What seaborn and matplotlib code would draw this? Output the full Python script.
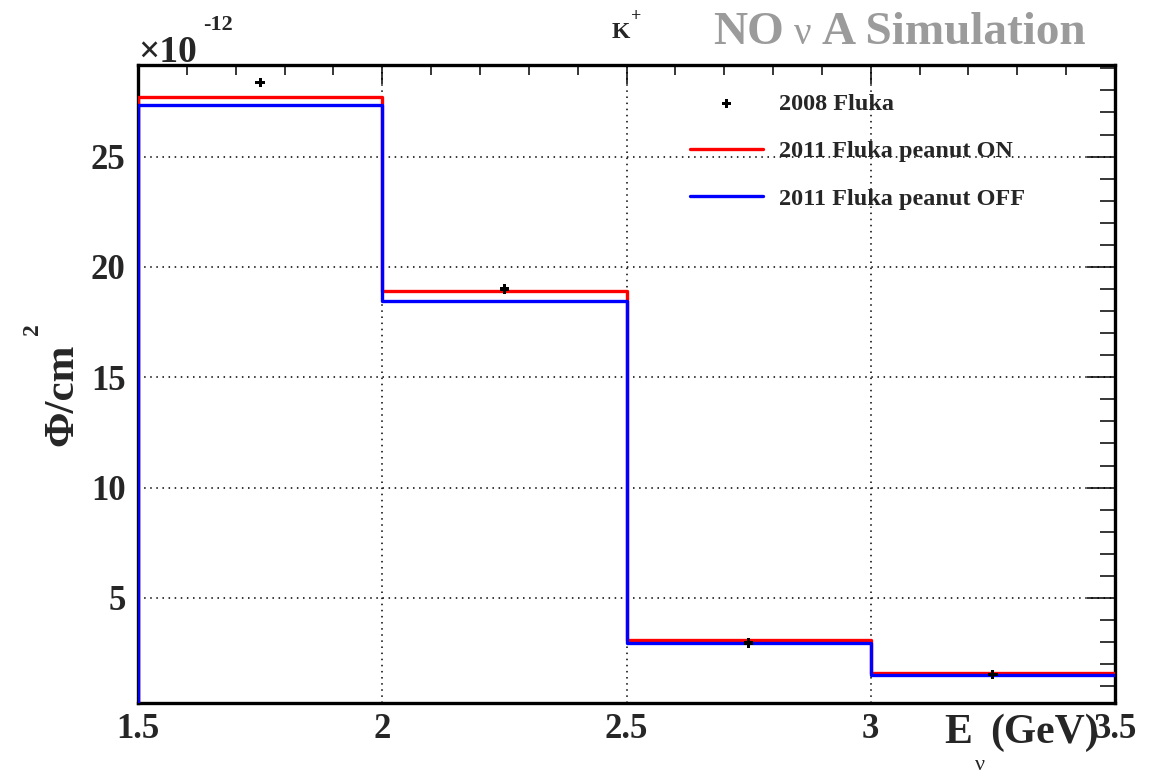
import numpy as np
import pandas as pd
import matplotlib
matplotlib.use("Agg")
import matplotlib.pyplot as plt
from matplotlib.ticker import MultipleLocator, FixedLocator
import seaborn as sns

# Energy bins (GeV) and flux per bin, in units of 1e-12 / cm^2
bin_edges = [1.5, 2.0, 2.5, 3.0, 3.5]
bin_centers = [1.75, 2.25, 2.75, 3.25]
flux_2008 = [28.35, 19.0, 2.96, 1.53]
flux_2011_on = [27.72, 18.89, 3.11, 1.60]
flux_2011_off = [27.33, 18.46, 2.95, 1.50]

x_ticks = [1.5, 2, 2.5, 3, 3.5]
x_tick_labels = ["1.5", "2", "2.5", "3", "3.5"]
y_ticks = [5, 10, 15, 20, 25]

df = pd.DataFrame({
    "E": bin_centers,
    "fluka2008": flux_2008,
    "on": flux_2011_on,
    "off": flux_2011_off,
})

sns.set_theme(style="white")
serif = ["Liberation Serif", "DejaVu Serif"]
plt.rcParams["font.family"] = serif
plt.rcParams["font.weight"] = "bold"

W, H = 1168, 774
fig = plt.figure(figsize=(W / 100, H / 100), dpi=100)
ax = fig.add_axes([138 / W, 1 - 703 / H, (1115 - 138) / W, (703 - 65) / H])

lw = 2.4


def step_hist(col, color, label):
    sns.histplot(data=df, x="E", weights=col, bins=bin_edges, element="step",
                 fill=False, color=color, linewidth=lw, ax=ax, label=label)
    line = ax.lines[-1]
    xs, ys = line.get_data()
    # close the first bin down to zero, like a ROOT histogram outline
    line.set_data(np.r_[xs[0], xs], np.r_[0.0, ys])
    line.set_zorder(3)


step_hist("on", "#ff0000", "2011 Fluka peanut ON")
step_hist("off", "#0000ff", "2011 Fluka peanut OFF")
sns.scatterplot(data=df, x="E", y="fluka2008", marker="P", s=45,
                color="black", edgecolor="none", ax=ax, label="2008 Fluka",
                zorder=5)

ax.set_xlim(1.5, 3.5)
ax.set_ylim(0.24, 29.15)
ax.set_xlabel("")
ax.set_ylabel("")

ax.xaxis.set_major_locator(FixedLocator(x_ticks))
ax.set_xticklabels(x_tick_labels)
ax.xaxis.set_minor_locator(MultipleLocator(0.1))
ax.yaxis.set_major_locator(FixedLocator(y_ticks))
ax.yaxis.set_minor_locator(MultipleLocator(1))

ax.grid(True, which="major", color="black", linestyle=(0, (1, 3)),
        linewidth=1.1)
for s in ax.spines.values():
    s.set_visible(True)
    s.set_color("black")
    s.set_linewidth(2.4)

ax.tick_params(axis="both", which="both", direction="in", top=True,
               right=True, color="black", width=1.1)
ax.tick_params(axis="y", which="major", length=20, labelsize=25, pad=9)
ax.tick_params(axis="y", which="minor", length=11)
ax.tick_params(axis="x", which="major", length=14, labelsize=25, pad=7)
ax.tick_params(axis="x", which="minor", length=7)
for lab in ax.get_xticklabels() + ax.get_yticklabels():
    lab.set_fontweight("bold")
    lab.set_family(serif)

# legend without frame, top right inside the plot
handles, labels = ax.get_legend_handles_labels()
order = ["2008 Fluka", "2011 Fluka peanut ON", "2011 Fluka peanut OFF"]
hmap = dict(zip(labels, handles))
leg = ax.legend([hmap[k] for k in order], order, frameon=False,
                loc="upper left", bbox_to_anchor=(668 / W, 1 - 71 / H),
                bbox_transform=fig.transFigure,
                prop={"family": serif, "weight": "bold", "size": 17.5},
                handlelength=3.0, handletextpad=0.68, labelspacing=1.05)

# scale factor above the y axis
fig.text(138 / W, 1 - 62 / H, "×10", fontsize=27, fontweight="bold",
         ha="left", va="baseline")
fig.text(203 / W, 1 - 30 / H, "-12", fontsize=16, fontweight="bold",
         ha="left", va="baseline")

# header texts
fig.text(612 / W, 1 - 38 / H, "K", fontsize=17, fontweight="bold",
         ha="left", va="baseline")
fig.text(631 / W, 1 - 21 / H, "+", fontsize=13, fontweight="bold",
         ha="left", va="baseline")
grey = "#9b9b9b"
fig.text(713 / W, 1 - 44 / H, "NO", fontsize=34, fontweight="bold",
         color=grey, ha="left", va="baseline")
fig.text(794 / W, 1 - 44 / H, "ν", fontsize=28, fontweight="normal",
         color=grey, ha="left", va="baseline")
fig.text(822 / W, 1 - 44 / H, "A Simulation", fontsize=34,
         fontweight="bold", color=grey, ha="left", va="baseline")

# axis titles
fig.text(944 / W, 1 - 743 / H, "E", fontsize=30, fontweight="bold",
         ha="left", va="baseline")
fig.text(975 / W, 1 - 770 / H, "ν", fontsize=16, fontweight="normal",
         ha="left", va="baseline")
fig.text(990 / W, 1 - 743 / H, "(GeV)", fontsize=30, fontweight="bold",
         ha="left", va="baseline")

fig.text(81 / W, 1 - 395 / H, "Φ/cm", fontsize=31, fontweight="bold",
         rotation=90, ha="right", va="center")
fig.text(43 / W, 1 - 329 / H, "2", fontsize=17, fontweight="bold",
         rotation=90, ha="right", va="center")

fig.savefig("out.png", dpi=100)
